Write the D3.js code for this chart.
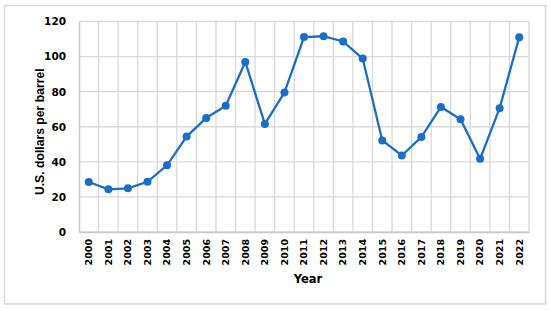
<!DOCTYPE html>
<html>
<head>
<meta charset="utf-8">
<script src="https://cdn.jsdelivr.net/npm/d3@7"></script>
<style>
  body { margin: 0; background: #fff; }
  .tick text { font-family: "DejaVu Sans", Verdana, sans-serif; font-weight: bold; fill: #000; }
</style>
</head>
<body>
<div id="chart"><svg></svg></div>
<script>
var years = ["2000","2001","2002","2003","2004","2005","2006","2007","2008","2009","2010",
             "2011","2012","2013","2014","2015","2016","2017","2018","2019","2020","2021","2022"];
var prices = [28.5, 24.3, 24.9, 28.6, 38.0, 54.4, 65.0, 72.0, 96.9, 61.6, 79.5,
              111.1, 111.6, 108.6, 98.9, 52.2, 43.6, 54.1, 71.3, 64.3, 41.7, 70.6, 111.0];
var yTicks = [0, 20, 40, 60, 80, 100, 120];

var width = 550,
    height = 310,
    margin = {top: 21.5, bottom: 78, left: 79, right: 21};

var chartWidth = width - margin.left - margin.right,
    chartHeight = height - margin.top - margin.bottom;

var svg = d3.select("#chart svg")
    .attr("width", width)
    .attr("height", height);

// outer frame
svg.append("rect")
    .attr("x", 4.5).attr("y", 5.5)
    .attr("width", 541).attr("height", 298.5)
    .style("fill", "none")
    .style("stroke", "#d9d9d9")
    .style("stroke-width", "1.5px");

var xScale = d3.scaleBand()
    .domain(years)
    .range([0, chartWidth]);

var yScale = d3.scaleLinear()
    .domain([0, 120])
    .range([chartHeight, 0]);

var g = svg.append("g")
    .attr("transform", "translate(" + margin.left + ", " + margin.top + ")");

// horizontal grid
g.selectAll("line.hgrid")
    .data(yTicks)
    .enter()
    .append("line")
    .attr("class", "hgrid")
    .attr("x1", 0).attr("x2", chartWidth)
    .attr("y1", function(d){ return yScale(d); })
    .attr("y2", function(d){ return yScale(d); })
    .style("stroke", "#d9d9d9")
    .style("stroke-width", "1.3px");

// vertical grid at category boundaries
g.selectAll("line.vgrid")
    .data(years.slice(1).concat(["end"]))
    .enter()
    .append("line")
    .attr("class", "vgrid")
    .attr("x1", function(d, i){ return xScale.step() * (i + 1); })
    .attr("x2", function(d, i){ return xScale.step() * (i + 1); })
    .attr("y1", 0).attr("y2", chartHeight)
    .style("stroke", "#d9d9d9")
    .style("stroke-width", "1.3px");

// axes
var xAxisG = g.append("g")
    .attr("transform", "translate(0, " + chartHeight + ")")
    .call(d3.axisBottom(xScale).tickSize(0).tickPadding(0));
xAxisG.select(".domain").style("stroke", "#c8c8c8").style("stroke-width", "1.5px");
xAxisG.selectAll(".tick text")
    .style("font-size", "9.5px")
    .attr("transform", "rotate(-90)")
    .attr("text-anchor", "end")
    .attr("x", -7)
    .attr("y", 0)
    .attr("dy", "0.35em");

var yAxisG = g.append("g")
    .call(d3.axisLeft(yScale).tickValues(yTicks).tickSize(0).tickPadding(13));
yAxisG.select(".domain").style("stroke", "#c8c8c8").style("stroke-width", "1.5px");
yAxisG.selectAll(".tick text").style("font-size", "10.5px");

// titles
svg.append("text")
    .attr("transform", "translate(44, " + (margin.top + chartHeight / 2 + 5) + ") rotate(-90)")
    .attr("text-anchor", "middle")
    .style("font-family", "'Liberation Sans', Arial, sans-serif")
    .style("font-weight", "bold")
    .style("font-size", "12.2px")
    .text("U.S. dollars per barrel");

svg.append("text")
    .attr("x", margin.left + chartWidth / 2 + 4)
    .attr("y", 283)
    .attr("text-anchor", "middle")
    .style("font-family", "'DejaVu Sans', Verdana, sans-serif")
    .style("font-weight", "bold")
    .style("font-size", "11.5px")
    .text("Year");

// line + markers
var line = d3.line()
    .x(function(d, i){ return xScale(years[i]) + xScale.bandwidth() / 2; })
    .y(function(d){ return yScale(d); });

g.append("path")
    .datum(prices)
    .attr("d", line)
    .style("fill", "none")
    .style("stroke", "#1a6ec8")
    .style("stroke-width", "2.3px");

g.selectAll("circle")
    .data(prices)
    .enter()
    .append("circle")
    .attr("cx", function(d, i){ return xScale(years[i]) + xScale.bandwidth() / 2; })
    .attr("cy", function(d){ return yScale(d); })
    .attr("r", 4)
    .style("fill", "#1a6ec8");
</script>
</body>
</html>
